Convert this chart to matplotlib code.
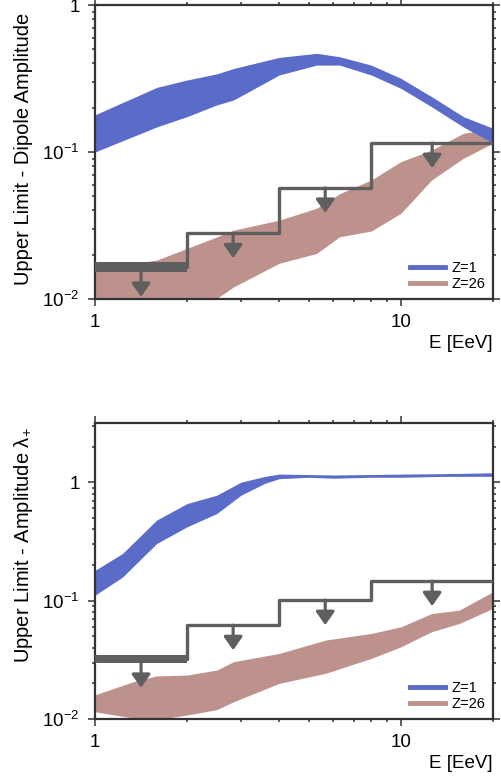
import math
import matplotlib
matplotlib.use("Agg")
import matplotlib.pyplot as plt
from matplotlib.lines import Line2D
from matplotlib.ticker import FuncFormatter, LogLocator, FixedLocator

plt.rcParams["font.family"] = ["Liberation Sans", "DejaVu Sans"]
plt.rcParams["mathtext.default"] = "regular"

BLUE = "#5b6bc8"; ROSE = "#be928c"; GRAY = "#5f5f5f"

# step limits: bin edges, upper-limit values, first-bin band
EDGES = [1, 2, 4, 8, 20]
UL_TOP = [0.0165, 0.028, 0.057, 0.115]
UL_BOT = [0.032, 0.062, 0.101, 0.146]
BAND_TOP = (0.0153, 0.0178)
BAND_BOT = (0.0298, 0.0345)

# top panel, dipole amplitude
E1_TOP = [1, 1.59, 2, 2.5, 2.84, 4, 5.3, 6.3, 8, 10, 12.6, 16, 20]
Z1_TOP_HI = [0.179, 0.275, 0.309, 0.34, 0.37, 0.44, 0.469, 0.445, 0.39, 0.317, 0.238, 0.174, 0.145]
Z1_TOP_LO = [0.10, 0.148, 0.174, 0.209, 0.226, 0.334, 0.39, 0.39, 0.334, 0.271, 0.203, 0.148, 0.115]
E26_TOP = [1, 1.59, 2, 2.45, 2.84, 4, 5.3, 6.3, 8, 10, 12.6, 16, 20]
Z26_TOP_HI = [0.016, 0.0184, 0.0221, 0.026, 0.0294, 0.0344, 0.0414, 0.052, 0.0645, 0.086, 0.103, 0.134, 0.145]
Z26_TOP_LO = [0.005, 0.006, 0.0075, 0.0098, 0.0121, 0.0175, 0.0204, 0.0265, 0.029, 0.0383, 0.0645, 0.0906, 0.115]

# bottom panel, amplitude lambda+
E1_BOT = [1, 1.23, 1.59, 2, 2.5, 3, 3.6, 4, 5, 6, 8, 10, 14, 20]
Z1_BOT_HI = [0.18, 0.25, 0.478, 0.66, 0.776, 1.0, 1.12, 1.17, 1.16, 1.15, 1.16, 1.17, 1.18, 1.2]
Z1_BOT_LO = [0.111, 0.158, 0.303, 0.42, 0.543, 0.776, 0.98, 1.07, 1.1, 1.08, 1.1, 1.1, 1.12, 1.12]
E26_BOT = [1, 1.33, 1.59, 2, 2.5, 2.84, 4, 5.67, 8, 10, 12.6, 15.5, 20]
Z26_BOT_HI = [0.016, 0.0206, 0.0231, 0.0235, 0.0259, 0.0305, 0.0358, 0.0464, 0.0528, 0.060, 0.0777, 0.083, 0.1186]
Z26_BOT_LO = [0.0115, 0.0102, 0.0099, 0.0108, 0.012, 0.014, 0.02, 0.0243, 0.0325, 0.0407, 0.0546, 0.064, 0.0859]


def fmt_y(v, pos):
    if abs(v - 1) < 1e-9:
        return "1"
    return "$10^{%d}$" % round(math.log10(v))


def panel(ax, e1, hi1, lo1, e26, hi26, lo26, ul, band, ytop):
    ax.set_xscale("log"); ax.set_yscale("log")
    ax.fill_between(e26, lo26, hi26, color=ROSE, lw=0, zorder=1)
    ax.fill_between(e1, lo1, hi1, color=BLUE, lw=0, zorder=2)

    ax.step(EDGES, ul + [ul[-1]], where="post", color=GRAY, lw=2.4, zorder=3)
    ax.fill_between(EDGES[:2], [band[0]] * 2, [band[1]] * 2, color=GRAY, lw=0, zorder=3)
    for i, v in enumerate(ul):
        xc = (EDGES[i] * EDGES[i + 1]) ** 0.5
        y0 = band[0] if i == 0 else v
        ax.annotate("", xy=(xc, y0), xycoords="data", xytext=(0, -18),
                    textcoords="offset points",
                    arrowprops=dict(arrowstyle="<|-,head_length=0.5,head_width=0.35",
                                    color=GRAY, lw=2.3, mutation_scale=16,
                                    shrinkA=0, shrinkB=0), zorder=4)

    ax.set_xlim(1, 20); ax.set_ylim(0.01, ytop)
    ax.xaxis.set_major_locator(FixedLocator([1, 10]))
    ax.xaxis.set_minor_locator(FixedLocator([2, 3, 4, 5, 6, 7, 8, 9, 20]))
    ax.xaxis.set_major_formatter(FuncFormatter(lambda v, p: "%d" % round(v)))
    ax.xaxis.set_minor_formatter(FuncFormatter(lambda v, p: ""))
    ax.yaxis.set_major_locator(LogLocator(base=10, numticks=10))
    ax.yaxis.set_minor_locator(LogLocator(base=10, subs=range(2, 10), numticks=10))
    ax.yaxis.set_major_formatter(FuncFormatter(fmt_y))
    ax.yaxis.set_minor_formatter(FuncFormatter(lambda v, p: ""))
    ax.tick_params(which="both", direction="out", top=True, right=True,
                   labelsize=13.5, width=1.1, color="#333333")
    ax.tick_params(which="major", length=5, pad=6)
    ax.tick_params(which="minor", length=2.5)
    for s in ax.spines.values():
        s.set_linewidth(1.6); s.set_color("#333333")
    ax.text(1.0, -0.15, "E [EeV]", transform=ax.transAxes, ha="right", va="center",
            fontsize=13.5)
    ax.legend(handles=[Line2D([], [], color=BLUE, lw=3.5, label="Z=1"),
                       Line2D([], [], color=ROSE, lw=3.5, label="Z=26")],
              loc="lower right", frameon=False, fontsize=10.5, handlelength=2.4,
              handletextpad=0.4, labelspacing=0.15, borderaxespad=0.15)


fig = plt.figure(figsize=(5.02, 7.77), dpi=100)
ax1 = fig.add_axes([95 / 502, 1 - 299 / 777, 398 / 502, 294 / 777])
ax2 = fig.add_axes([95 / 502, 1 - 719 / 777, 398 / 502, 296 / 777])

panel(ax1, E1_TOP, Z1_TOP_HI, Z1_TOP_LO, E26_TOP, Z26_TOP_HI, Z26_TOP_LO, UL_TOP, BAND_TOP, 1.0)
panel(ax2, E1_BOT, Z1_BOT_HI, Z1_BOT_LO, E26_BOT, Z26_BOT_HI, Z26_BOT_LO, UL_BOT, BAND_BOT, 3.16)

fig.text(24 / 502, 1 - 285 / 777, "Upper Limit - Dipole Amplitude", rotation=90,
         ha="center", va="bottom", fontsize=14.5)
fig.text(24 / 502, 1 - 663 / 777, "Upper Limit - Amplitude $\\lambda_{+}$", rotation=90,
         ha="center", va="bottom", fontsize=14.5)

fig.savefig("out.png", dpi=100, facecolor="white")
